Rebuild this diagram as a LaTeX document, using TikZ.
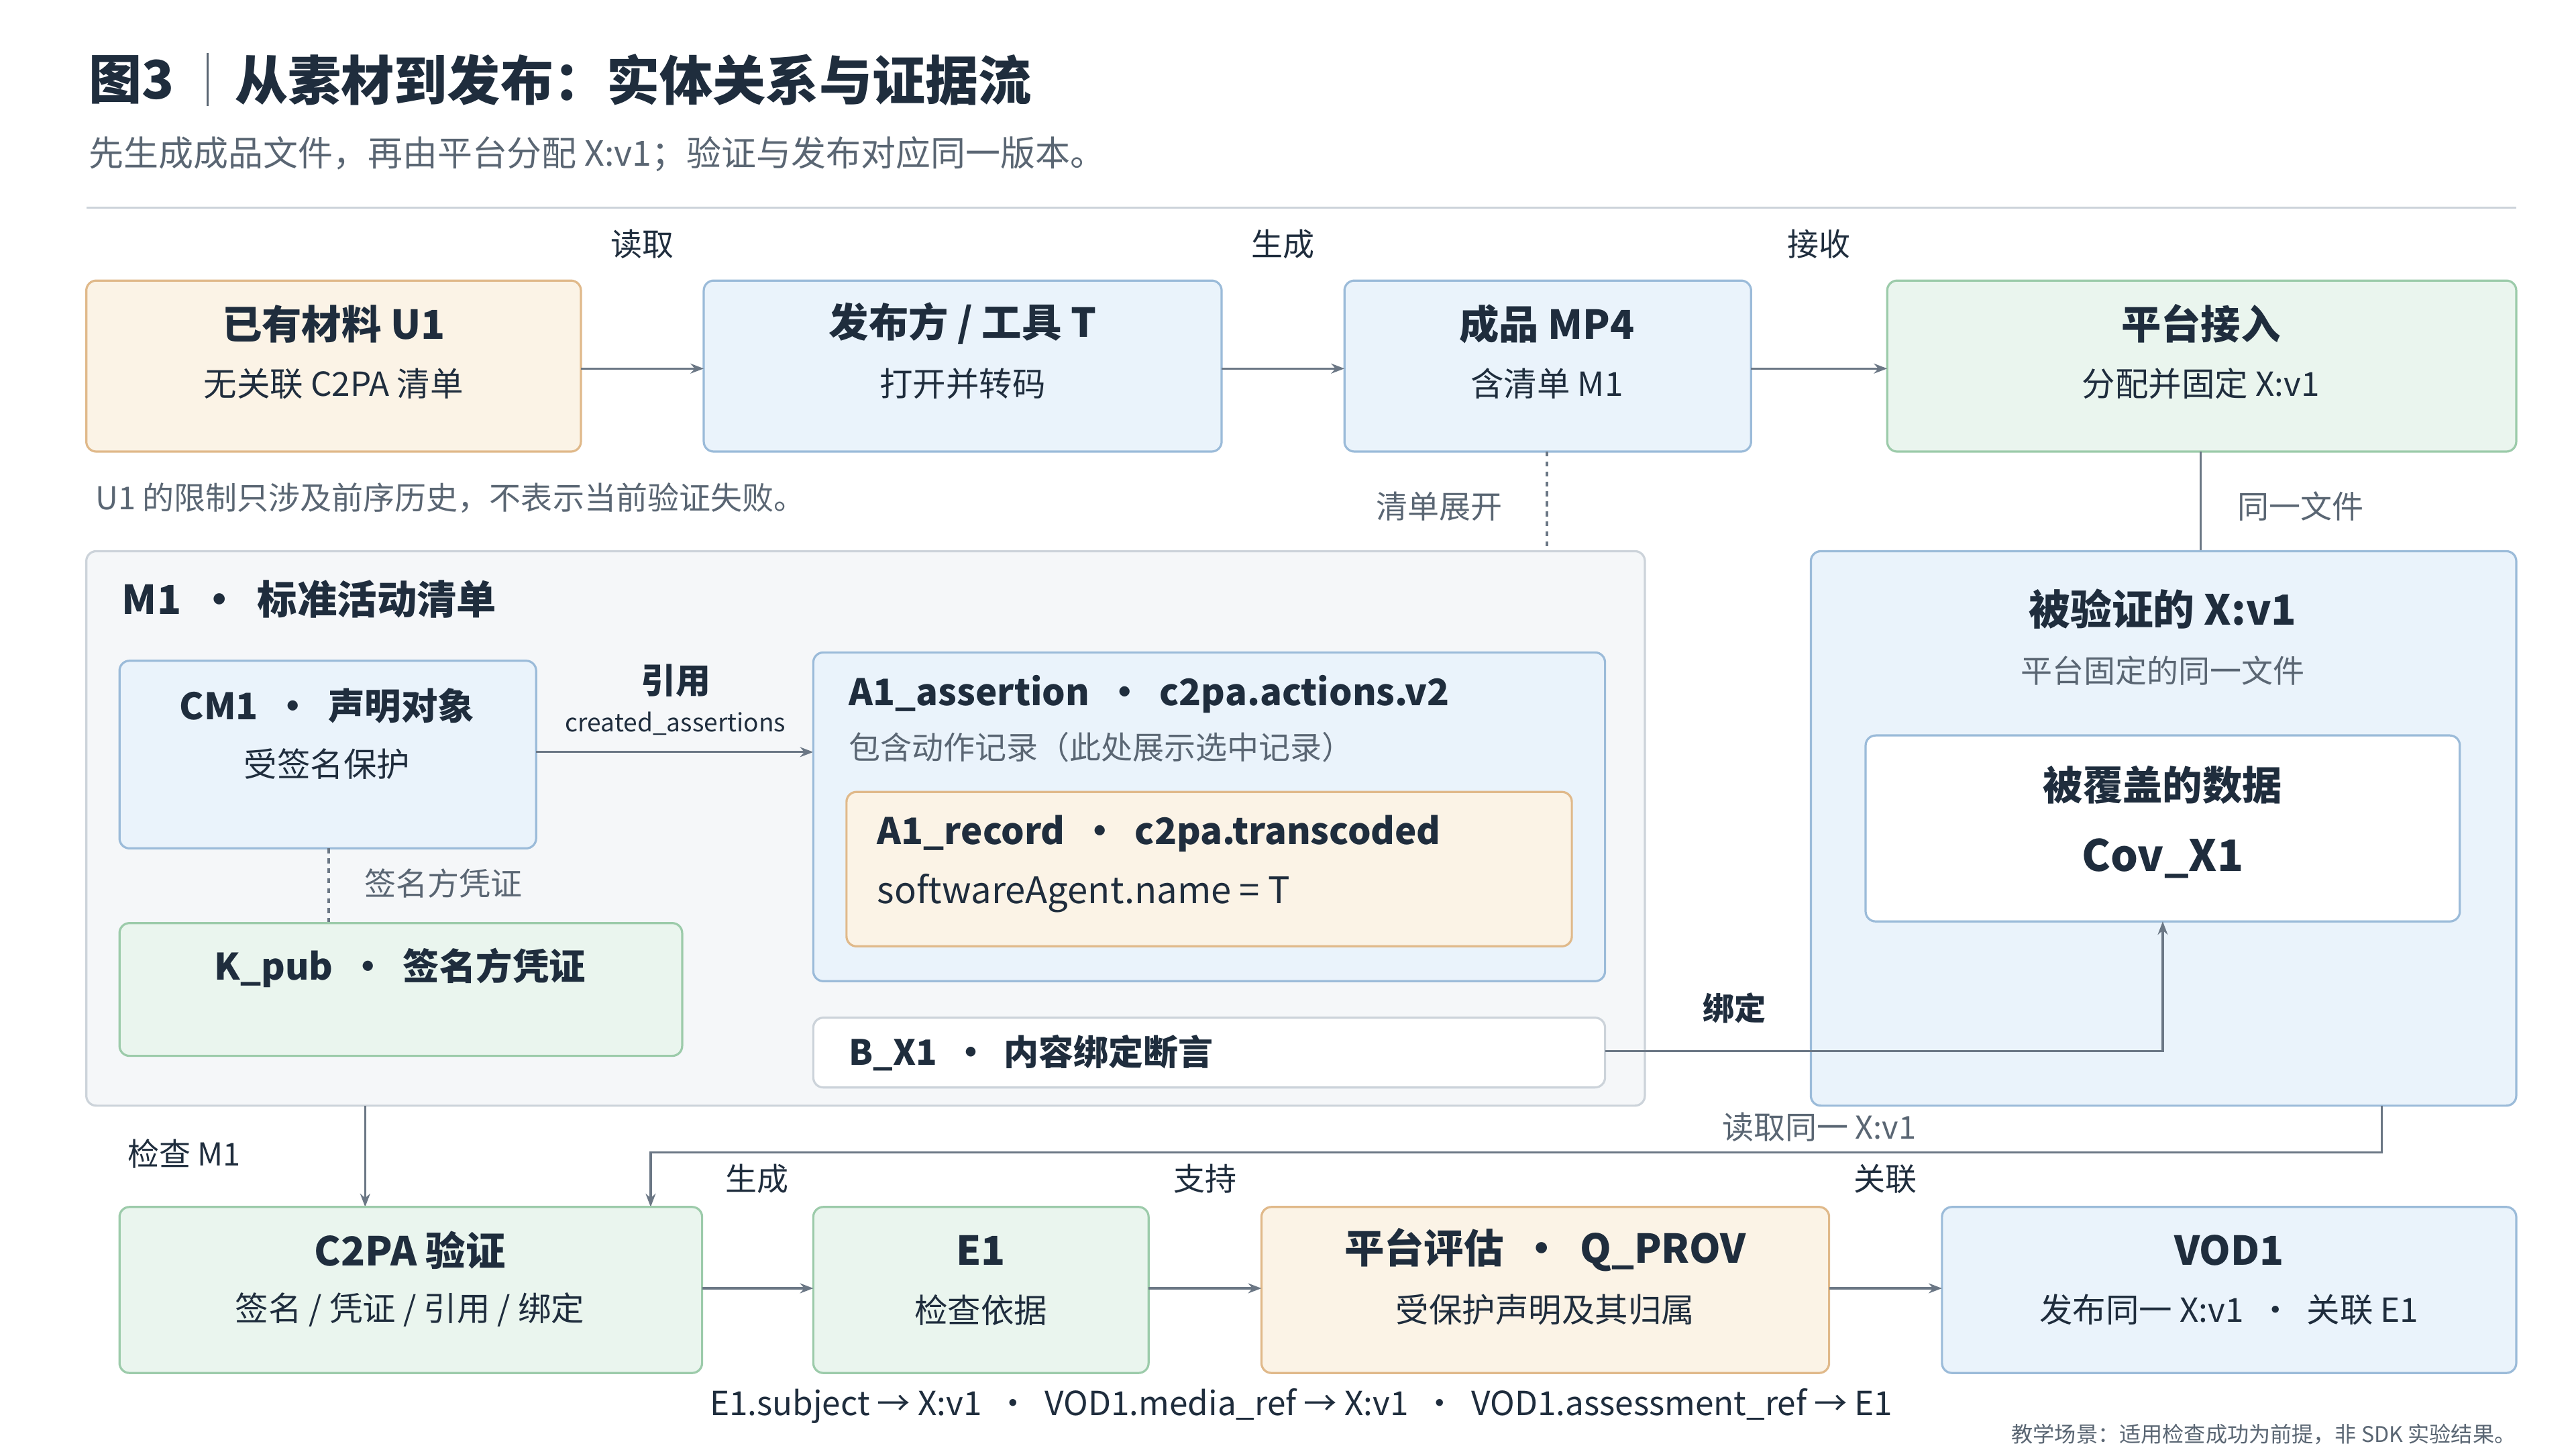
\documentclass[tikz,border=0pt]{standalone}
\usepackage{fontspec}
\setmainfont{Noto Sans CJK SC}
\usetikzlibrary{arrows.meta}
\definecolor{ink}{HTML}{1F2D3D}
\definecolor{gr}{HTML}{5A6673}
\definecolor{ln}{HTML}{6B7785}
\definecolor{bF}{HTML}{EAF3FB}\definecolor{bD}{HTML}{9BBBD9}
\definecolor{oF}{HTML}{FBF3E6}\definecolor{oD}{HTML}{E0B98A}
\definecolor{gF}{HTML}{EAF5EE}\definecolor{gD}{HTML}{9CCBAA}
\definecolor{cF}{HTML}{F5F7F9}\definecolor{cD}{HTML}{CCD3DA}
\tikzset{
 box/.style={draw,line width=1.3pt,rounded corners=6pt},
 blue/.style={box,fill=bF,draw=bD},
 orange/.style={box,fill=oF,draw=oD},
 green/.style={box,fill=gF,draw=gD},
 cont/.style={box,fill=cF,draw=cD},
 white/.style={box,fill=white,draw=cD},
 T/.style={text=ink,font=\fontsize{24}{28}\selectfont\bfseries},
 S/.style={text=ink,font=\fontsize{20}{24}\selectfont},
 L/.style={text=gr,font=\fontsize{19}{23}\selectfont},
 arr/.style={draw=ln,line width=1.3pt,-{Stealth[length=8pt,width=6pt]}},
 ln/.style={draw=ln,line width=1.3pt},
}
\begin{document}
\begin{tikzpicture}[x=1pt,y=-1pt]
\useasboundingbox[fill=white] (0,0) rectangle (1552,873);
% header
\node[anchor=west,text=ink,font=\fontsize{32}{36}\selectfont\bfseries] (t1) at (50,48) {图3};
\draw[ln,draw=gr,line width=1pt] (125,32) -- (125,64);
\node[anchor=west,text=ink,font=\fontsize{32}{36}\selectfont\bfseries] (t2) at (138,48) {从素材到发布：实体关系与证据流};
\node[anchor=west,text=gr,font=\fontsize{21}{25}\selectfont] (sub) at (50,93) {先生成成品文件，再由平台分配 X:v1；验证与发布对应同一版本。};
\draw[draw=cD,line width=1.3pt] (52,125) -- (1516,125);
% row 1
\path[orange] (52,169) rectangle (350,272); \node[T] (u1) at (201,195) {已有材料 U1}; \node[S] at (201,231) {无关联 C2PA 清单};
\path[blue] (424,169) rectangle (736,272); \node[T] at (580,195) {发布方 / 工具 T}; \node[S] at (580,231) {打开并转码};
\path[blue] (810,169) rectangle (1055,272); \node[T] at (932,195) {成品 MP4}; \node[S] at (932,231) {含清单 M1};
\path[green] (1137,169) rectangle (1516,272); \node[T] at (1326,195) {平台接入}; \node[S] at (1326,231) {分配并固定 X:v1};
\coordinate (a1) at (350,222); \coordinate (a2) at (424,222);
\coordinate (a3) at (736,222); \coordinate (a4) at (810,222);
\coordinate (a5) at (1055,222); \coordinate (a6) at (1137,222);
\draw[arr] (a1) -- (a2); \draw[arr] (a3) -- (a4); \draw[arr] (a5) -- (a6);
\node[L,text=ink] at (387,147) {读取}; \node[L,text=ink] at (773,147) {生成}; \node[L,text=ink] at (1096,147) {接收};
\node[L,anchor=west] at (54,300) {U1 的限制只涉及前序历史，不表示当前验证失败。};
\node[L] at (867,305) {清单展开}; \draw[ln,dashed] (932,272) -- (932,332);
\node[L] at (1386,305) {同一文件}; \draw[ln] (1326,272) -- (1326,332);
% M1 container
\path[cont] (52,332) rectangle (991,666);
\node[T,anchor=west] at (70,361) {M1 \ · \ 标准活动清单};
\path[blue] (72,398) rectangle (323,511); \node[T,font=\fontsize{22}{26}\selectfont\bfseries] at (197,425) {CM1 \ · \ 声明对象}; \node[S] at (197,460) {受签名保护};
\node[T,font=\fontsize{21}{25}\selectfont\bfseries] at (407,410) {引用};
\node[L,text=ink,font=\fontsize{15}{18}\selectfont] at (407,436) {created\_assertions};
\coordinate (c1) at (323,453); \coordinate (c2) at (490,453); \draw[arr] (c1) -- (c2);
\path[blue] (490,393) rectangle (967,591);
\node[T,anchor=west,font=\fontsize{22}{26}\selectfont\bfseries] at (508,418) {A1\_assertion \ · \ c2pa.actions.v2};
\node[L,anchor=west] at (508,450) {包含动作记录（此处展示选中记录）};
\path[orange] (510,477) rectangle (947,570);
\node[T,anchor=west,font=\fontsize{22}{26}\selectfont\bfseries] at (525,502) {A1\_record \ · \ c2pa.transcoded};
\node[S,anchor=west,font=\fontsize{22}{26}\selectfont] at (525,538) {softwareAgent.name = T};
\draw[ln,dashed] (198,511) -- (198,556); \node[L] at (267,532) {签名方凭证};
\path[green] (72,556) rectangle (411,636); \node[T,font=\fontsize{22}{26}\selectfont\bfseries] at (241,583) {K\_pub \ · \ 签名方凭证};
\path[white] (490,613) rectangle (967,655); \node[T,anchor=west,font=\fontsize{21}{25}\selectfont\bfseries] at (508,634) {B\_X1 \ · \ 内容绑定断言};
% right container
\path[blue] (1091,332) rectangle (1516,666);
\node[T,font=\fontsize{25}{29}\selectfont\bfseries] at (1303,367) {被验证的 X:v1};
\node[L] at (1303,404) {平台固定的同一文件};
\path[box,fill=white,draw=bD] (1124,443) rectangle (1482,555);
\node[T] at (1303,473) {被覆盖的数据}; \node[T,font=\fontsize{26}{30}\selectfont\bfseries] at (1303,517) {Cov\_X1};
\node[T,font=\fontsize{19}{23}\selectfont\bfseries] at (1045,607) {绑定};
\coordinate (b1) at (967,633); \coordinate (b2) at (1303,555);
\draw[arr] (b1) -| (b2);
% read back
\coordinate (r1) at (1435,666); \coordinate (r2) at (392,727);
\draw[arr] (r1) -- (1435,694) -| (r2);
\node[L] at (1096,679) {读取同一 X:v1};
\node[L,text=ink] at (111,695) {检查 M1};
\coordinate (m1) at (220,666); \coordinate (m2) at (220,727); \draw[arr] (m1) -- (m2);
% row 3
\path[green] (72,727) rectangle (423,827); \node[T] at (247,753) {C2PA 验证}; \node[S] at (247,789) {签名 / 凭证 / 引用 / 绑定};
\path[green] (490,727) rectangle (692,827); \node[T] at (591,753) {E1}; \node[S] at (591,789) {检查依据};
\path[orange] (760,727) rectangle (1102,827); \node[T] at (931,753) {平台评估 \ · \ Q\_PROV}; \node[S] at (931,789) {受保护声明及其归属};
\path[blue] (1170,727) rectangle (1516,827); \node[T] at (1343,753) {VOD1}; \node[S] at (1343,789) {发布同一 X:v1 \ · \ 关联 E1};
\coordinate (d1) at (423,776); \coordinate (d2) at (490,776);
\coordinate (d3) at (692,776); \coordinate (d4) at (760,776);
\coordinate (d5) at (1102,776); \coordinate (d6) at (1170,776);
\draw[arr] (d1) -- (d2); \draw[arr] (d3) -- (d4); \draw[arr] (d5) -- (d6);
\node[L,text=ink] at (456,710) {生成}; \node[L,text=ink] at (726,710) {支持}; \node[L,text=ink] at (1136,710) {关联};
\node[S] at (784,847) {E1.subject → X:v1 \ · \ VOD1.media\_ref → X:v1 \ · \ VOD1.assessment\_ref → E1};
\node[L,anchor=east,font=\fontsize{13}{15}\selectfont,inner sep=0pt] at (1516,864) {教学场景：适用检查成功为前提，非 SDK 实验结果。};
\end{tikzpicture}
\end{document}
